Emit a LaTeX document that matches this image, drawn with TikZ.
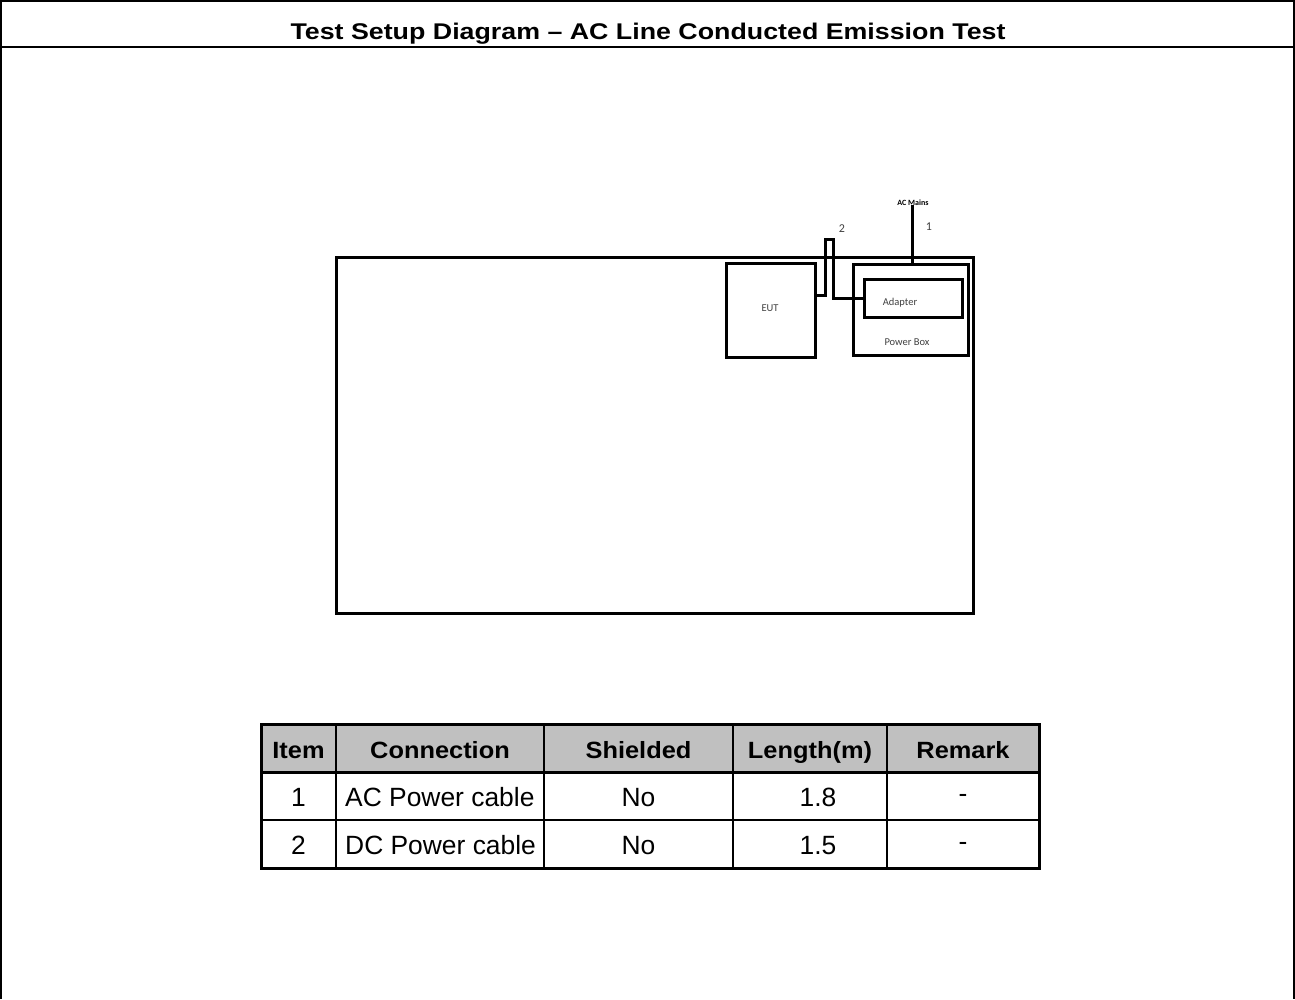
\documentclass[tikz,border=0pt]{standalone}
\usepackage{fontspec}
\setmainfont{Liberation Sans}
\newfontfamily\titlefont[FakeStretch=1.18,Ligatures=TeX]{Liberation Sans}
\newfontfamily\headfont[FakeStretch=1.08,Ligatures=TeX]{Liberation Sans}
\newfontfamily\calfont{Carlito}
\usetikzlibrary{positioning}
\definecolor{hdrgray}{HTML}{C0C0C0}
\definecolor{lblgray}{HTML}{404040}
\tikzset{
  boxthick/.style={draw,line width=3pt,inner sep=0pt},
  cable/.style={line width=3pt},
  lbl/.style={font=\calfont\fontsize{10.5}{12}\selectfont,text=lblgray,inner sep=0pt},
  cell/.style={font=\fontsize{26.4}{30}\selectfont,inner sep=0pt,anchor=base},
  hcell/.style={font=\headfont\bfseries\fontsize{23.5}{28}\selectfont,inner sep=0pt,anchor=base}
}
\begin{document}
\begin{tikzpicture}[x=1pt,y=-1pt]
\useasboundingbox (0,0) rectangle (1295,999);
\fill[white] (0,0) rectangle (1295,999);
\draw[line width=2pt] (1,999) -- (1,1) -- (1294,1) -- (1294,999);
\draw[line width=2pt] (1,47) -- (1294,47);
\node[font=\titlefont\bfseries\fontsize{22.7}{26}\selectfont,inner sep=0pt,anchor=base] (title) at (648,39) {Test Setup Diagram \textendash{} AC Line Conducted Emission Test};
\draw[line width=3pt] (336,257) rectangle (973,613);
\node[boxthick,minimum width=89pt,minimum height=94pt] (eut) at (770.5,310) {};
\node[boxthick,minimum width=115pt,minimum height=91pt] (pbox) at (910.5,309.5) {};
\node[boxthick,minimum width=98pt,minimum height=38pt] (adapter) at (913,298) {};
\node[lbl] (eutlbl) at (770,308) {EUT};
\node[lbl] (adlbl) at (900,303) {Adapter};
\node[lbl] (pboxlbl) at (907,342) {Power Box};
\coordinate (mains) at (912,205);
\node[font=\calfont\bfseries\fontsize{8}{9}\selectfont,inner sep=0pt] (mainslbl) at (913,203) {AC Mains};
\draw[cable] (mains) -- (mains |- pbox.north);
\draw[cable] ([yshift=15pt]eut.east) -| (825,239) -| (833,298) -- (adapter.west);
\node[lbl,font=\calfont\fontsize{12}{14}\selectfont] (one) at (929,227) {1};
\node[lbl,font=\calfont\fontsize{12}{14}\selectfont] (two) at (842,229) {2};
\fill[hdrgray] (261,724) rectangle (1039,772);
\foreach \x in {336,544,733,887}
  \draw[line width=1.5pt] (\x,724) -- (\x,868);
\draw[line width=1.5pt] (261,820) -- (1039,820);
\draw[line width=3pt] (261,772) -- (1039,772);
\draw[line width=3pt] (261,724) rectangle (1039,868);
\node[hcell] (hitem) at (298.5,758) {Item};
\node[hcell] (hconn) at (440,758) {Connection};
\node[hcell] (hshield) at (638.5,758) {Shielded};
\node[hcell] (hlen) at (810,758) {Length(m)};
\node[hcell] (hrem) at (963,758) {Remark};
\node[cell] (aitem) at (298.5,806) {1};
\node[cell,anchor=base west] (aconn) at (345,806) {AC Power cable};
\node[cell] (ashield) at (638.5,806) {No};
\node[cell] (alen) at (818,806) {1.8};
\node[cell] (arem) at (963,802) {-};
\node[cell] (bitem) at (298.5,854) {2};
\node[cell,anchor=base west] (bconn) at (345,854) {DC Power cable};
\node[cell] (bshield) at (638.5,854) {No};
\node[cell] (blen) at (818,854) {1.5};
\node[cell] (brem) at (963,850) {-};
\end{tikzpicture}
\end{document}
